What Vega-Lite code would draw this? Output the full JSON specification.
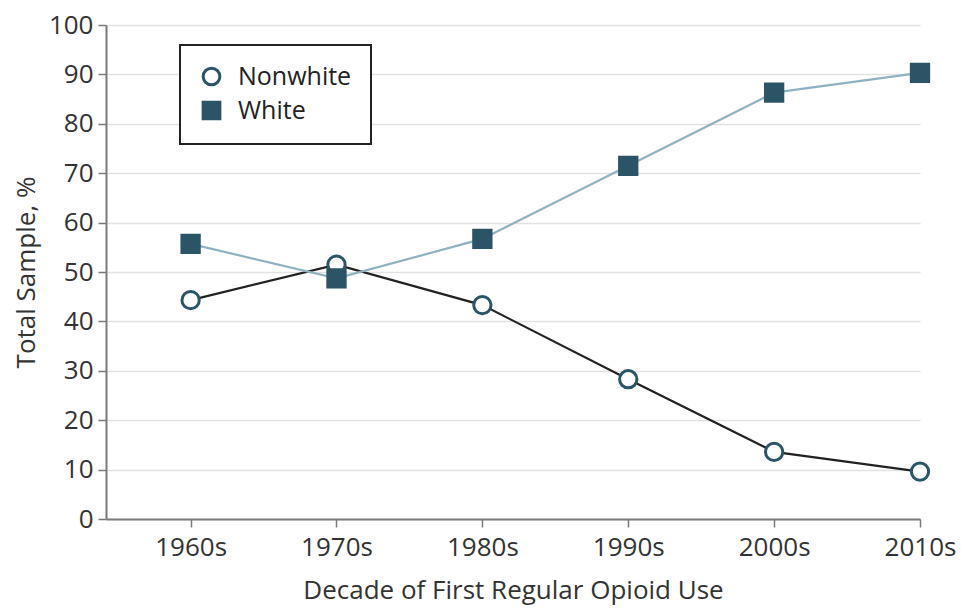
{
  "$schema": "https://vega.github.io/schema/vega-lite/v6.json",
  "width": 814,
  "height": 494,
  "autosize": "none",
  "padding": {"left": 106, "top": 25, "right": 41, "bottom": 90},
  "config": {
    "font": "Open Sans",
    "view": {"stroke": null},
    "axis": {
      "labelFont": "Open Sans",
      "titleFont": "Open Sans",
      "labelFontSize": 26,
      "titleFontSize": 26,
      "labelColor": "#333333",
      "titleColor": "#333333",
      "titleFontWeight": "normal",
      "domainColor": "#7a7a7a",
      "domainWidth": 2,
      "tickColor": "#7a7a7a",
      "tickWidth": 1.5,
      "tickSize": 8,
      "gridColor": "#e2e2e2",
      "gridWidth": 1.5
    },
    "legend": {
      "labelFont": "Open Sans",
      "labelFontSize": 25,
      "labelColor": "#222222",
      "strokeWidth": 2
    }
  },
  "data": {
    "values": [
      {"decade": 1960, "group": "Nonwhite", "pct": 44.3},
      {"decade": 1970, "group": "Nonwhite", "pct": 51.5},
      {"decade": 1980, "group": "Nonwhite", "pct": 43.3},
      {"decade": 1990, "group": "Nonwhite", "pct": 28.3},
      {"decade": 2000, "group": "Nonwhite", "pct": 13.6},
      {"decade": 2010, "group": "Nonwhite", "pct": 9.6},
      {"decade": 1960, "group": "White", "pct": 55.7},
      {"decade": 1970, "group": "White", "pct": 48.7},
      {"decade": 1980, "group": "White", "pct": 56.7},
      {"decade": 1990, "group": "White", "pct": 71.5},
      {"decade": 2000, "group": "White", "pct": 86.3},
      {"decade": 2010, "group": "White", "pct": 90.3}
    ]
  },
  "encoding": {
    "x": {
      "field": "decade",
      "type": "quantitative",
      "scale": {"domain": [1954.2, 2010], "nice": false, "zero": false},
      "axis": {
        "values": [1960, 1970, 1980, 1990, 2000, 2010],
        "labelExpr": "datum.value + 's'",
        "grid": false,
        "title": "Decade of First Regular Opioid Use",
        "labelPadding": 7,
        "titlePadding": 17,
        "labelFlush": false
      }
    },
    "y": {
      "field": "pct",
      "type": "quantitative",
      "scale": {"domain": [0, 100], "nice": false},
      "axis": {
        "values": [0, 10, 20, 30, 40, 50, 60, 70, 80, 90, 100],
        "title": "Total Sample, %",
        "labelPadding": 5,
        "titlePadding": 9
      }
    }
  },
  "layer": [
    {
      "mark": {"type": "line", "strokeWidth": 2.2},
      "encoding": {
        "color": {
          "field": "group",
          "type": "nominal",
          "scale": {"domain": ["White", "Nonwhite"], "range": ["#8fb2c2", "#222222"]},
          "legend": null
        },
        "order": {"field": "decade", "type": "quantitative"}
      }
    },
    {
      "mark": {"type": "point", "filled": true, "stroke": "#2b5566", "strokeWidth": 3, "size": 300, "opacity": 1},
      "encoding": {
        "shape": {
          "field": "group",
          "type": "nominal",
          "scale": {"domain": ["Nonwhite", "White"], "range": ["circle", "square"]},
          "legend": {
            "title": null,
            "orient": "none",
            "legendX": 74,
            "legendY": 20,
            "padding": 19,
            "strokeColor": "#222222",
            "symbolSize": 280,
            "symbolStrokeWidth": 3,
            "rowPadding": 5,
            "labelOffset": 14,
            "fillColor": "#ffffff"
          }
        },
        "fill": {
          "field": "group",
          "type": "nominal",
          "scale": {"domain": ["Nonwhite", "White"], "range": ["#ffffff", "#2b5566"]},
          "legend": {
            "title": null,
            "orient": "none",
            "legendX": 74,
            "legendY": 20,
            "padding": 19,
            "strokeColor": "#222222",
            "symbolSize": 280,
            "symbolStrokeWidth": 3,
            "rowPadding": 5,
            "labelOffset": 14,
            "fillColor": "#ffffff"
          }
        }
      }
    }
  ]
}
